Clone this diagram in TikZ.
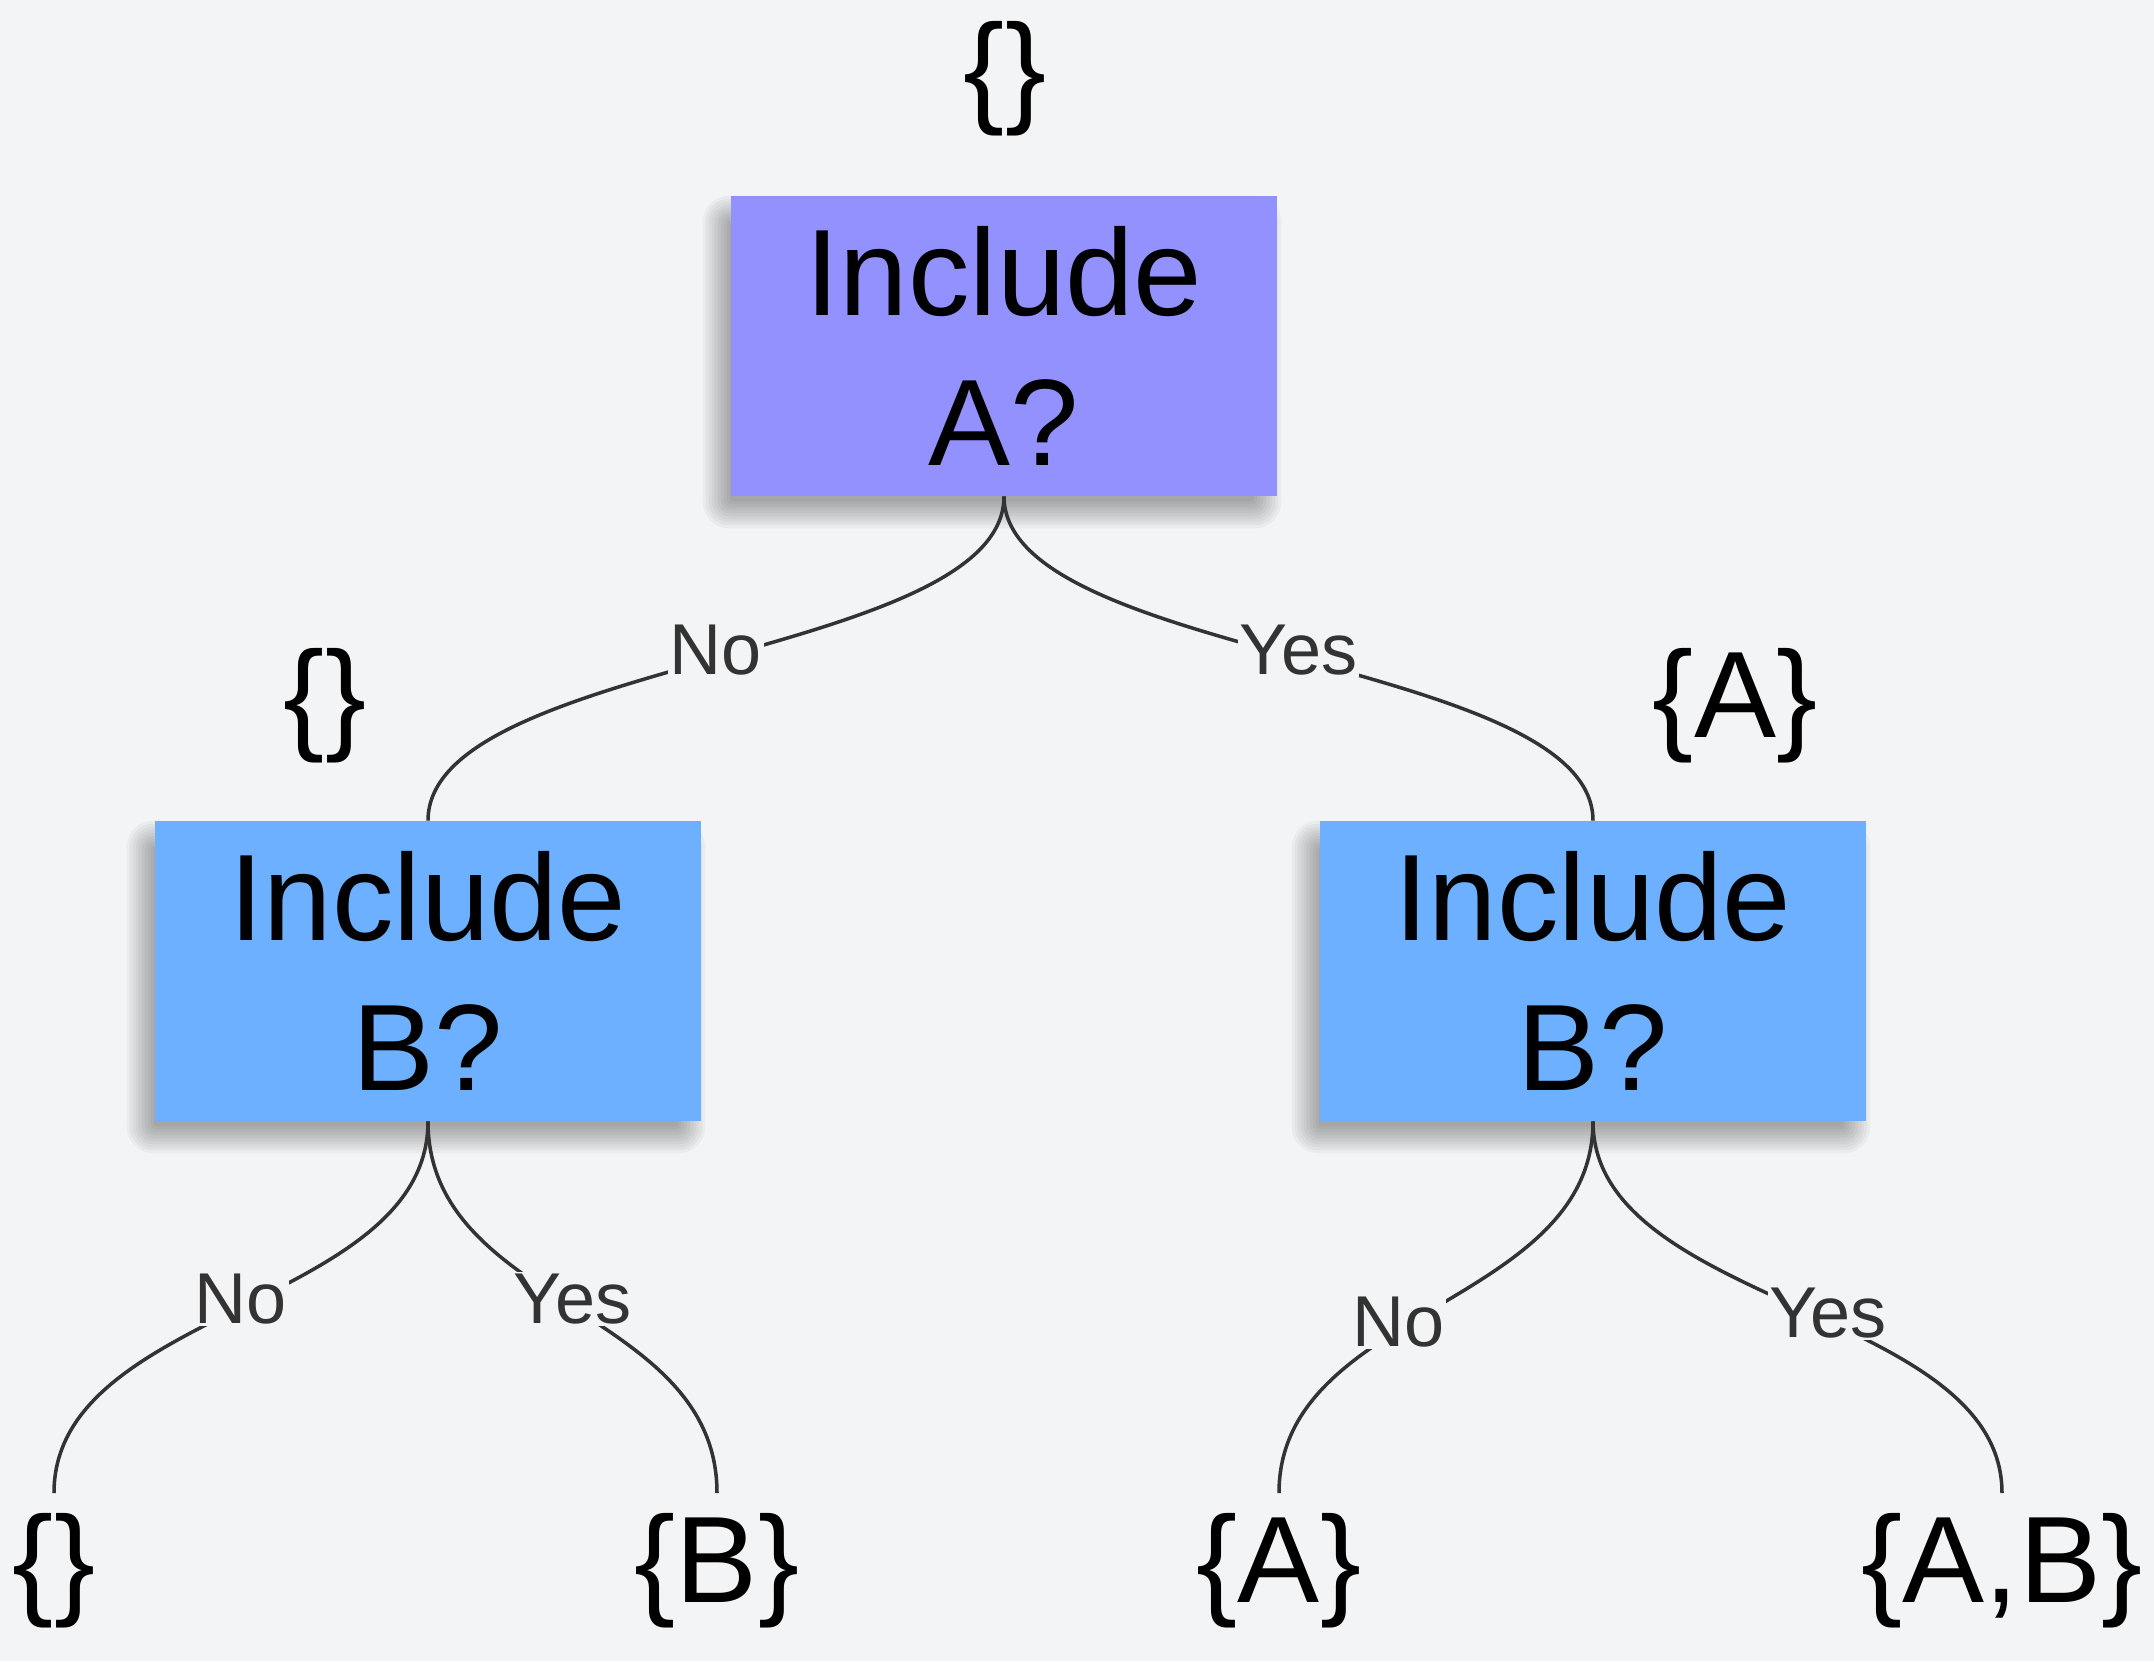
\documentclass[tikz,border=0pt]{standalone}
\usepackage{fontspec}
\setmainfont{Liberation Sans}
\usepackage{xcolor}
\usepackage{tikz}
\usetikzlibrary{backgrounds}
\definecolor{pagebg}{HTML}{F3F4F6}
\definecolor{rootfill}{HTML}{9391FD}
\definecolor{childfill}{HTML}{6CB0FF}
\definecolor{edgegray}{HTML}{333333}

\begin{document}
\begin{tikzpicture}[x=0.02cm, y=-0.02cm,
    question/.style={fill=#1, minimum width=10.92cm, minimum height=6cm, inner sep=0pt,
      align=center, font=\fontsize{70}{85}\selectfont},
    subset/.style={inner xsep=0pt, inner ysep=0.4cm, font=\fontsize{70}{85}\selectfont},
    answer/.style={fill=pagebg, inner sep=1pt, text=edgegray, font=\fontsize{41}{49}\selectfont, yshift=0.16cm},
    branch/.style={draw=edgegray, line width=2pt}]
      \path[use as bounding box] (0,0) rectangle (2154,1661);
      \node[question=rootfill] (QA) at (1004,346) {Include\\A?};
      \node[question=childfill] (QBno) at (428,971) {Include\\B?};
      \node[question=childfill] (QByes) at (1593,971) {Include\\B?};
        % sets so far
      \node[subset, inner ysep=0pt] (S0) at (1005,79) {\{\}};
      \node[subset, inner ysep=0pt] (S1) at (325,706) {\{\}};
      \node[subset, inner ysep=0pt] (S2) at (1735,706) {\{A\}};
        % leaves
      \node[subset, anchor=north] (L1) at (54,1493) {\{\}};
      \node[subset, anchor=north] (L2) at (717,1493) {\{B\}};
      \node[subset, anchor=north] (L3) at (1279,1493) {\{A\}};
      \node[subset, anchor=north] (L4) at (2002,1493) {\{A,B\}};
      \draw[branch] (QA.south) .. controls +(0,162) and +(0,-162) .. (QBno.north) node[answer, pos=0.5] {No};
      \draw[branch] (QA.south) .. controls +(0,162) and +(0,-162) .. (QByes.north) node[answer, pos=0.5] {Yes};
      \draw[branch] (QBno.south) .. controls +(0,185) and +(0,-185) .. (L1.north) node[answer, pos=0.5] {No};
      \draw[branch] (QBno.south) .. controls +(0,185) and +(0,-185) .. (L2.north) node[answer, pos=0.5] {Yes};
      \draw[branch] (QByes.south) .. controls +(0,185) and +(0,-185) .. (L3.north) node[answer, pos=0.58] {No};
      \draw[branch] (QByes.south) .. controls +(0,185) and +(0,-185) .. (L4.north) node[answer, pos=0.55] {Yes};
        % soft shadows
      \begin{scope}[on background layer]
        \fill[pagebg] (0,0) rectangle (2154,1661);
        \foreach \q in {QA,QBno,QByes}
          \foreach \r in {3,6,...,30}
            \fill[black, opacity=0.035, rounded corners=\r*0.5pt]
              ([shift={(2-\r,30-\r)}]\q.north west) rectangle ([shift={(-26+\r,2+\r)}]\q.south east);
      \end{scope}
\end{tikzpicture}
\end{document}
